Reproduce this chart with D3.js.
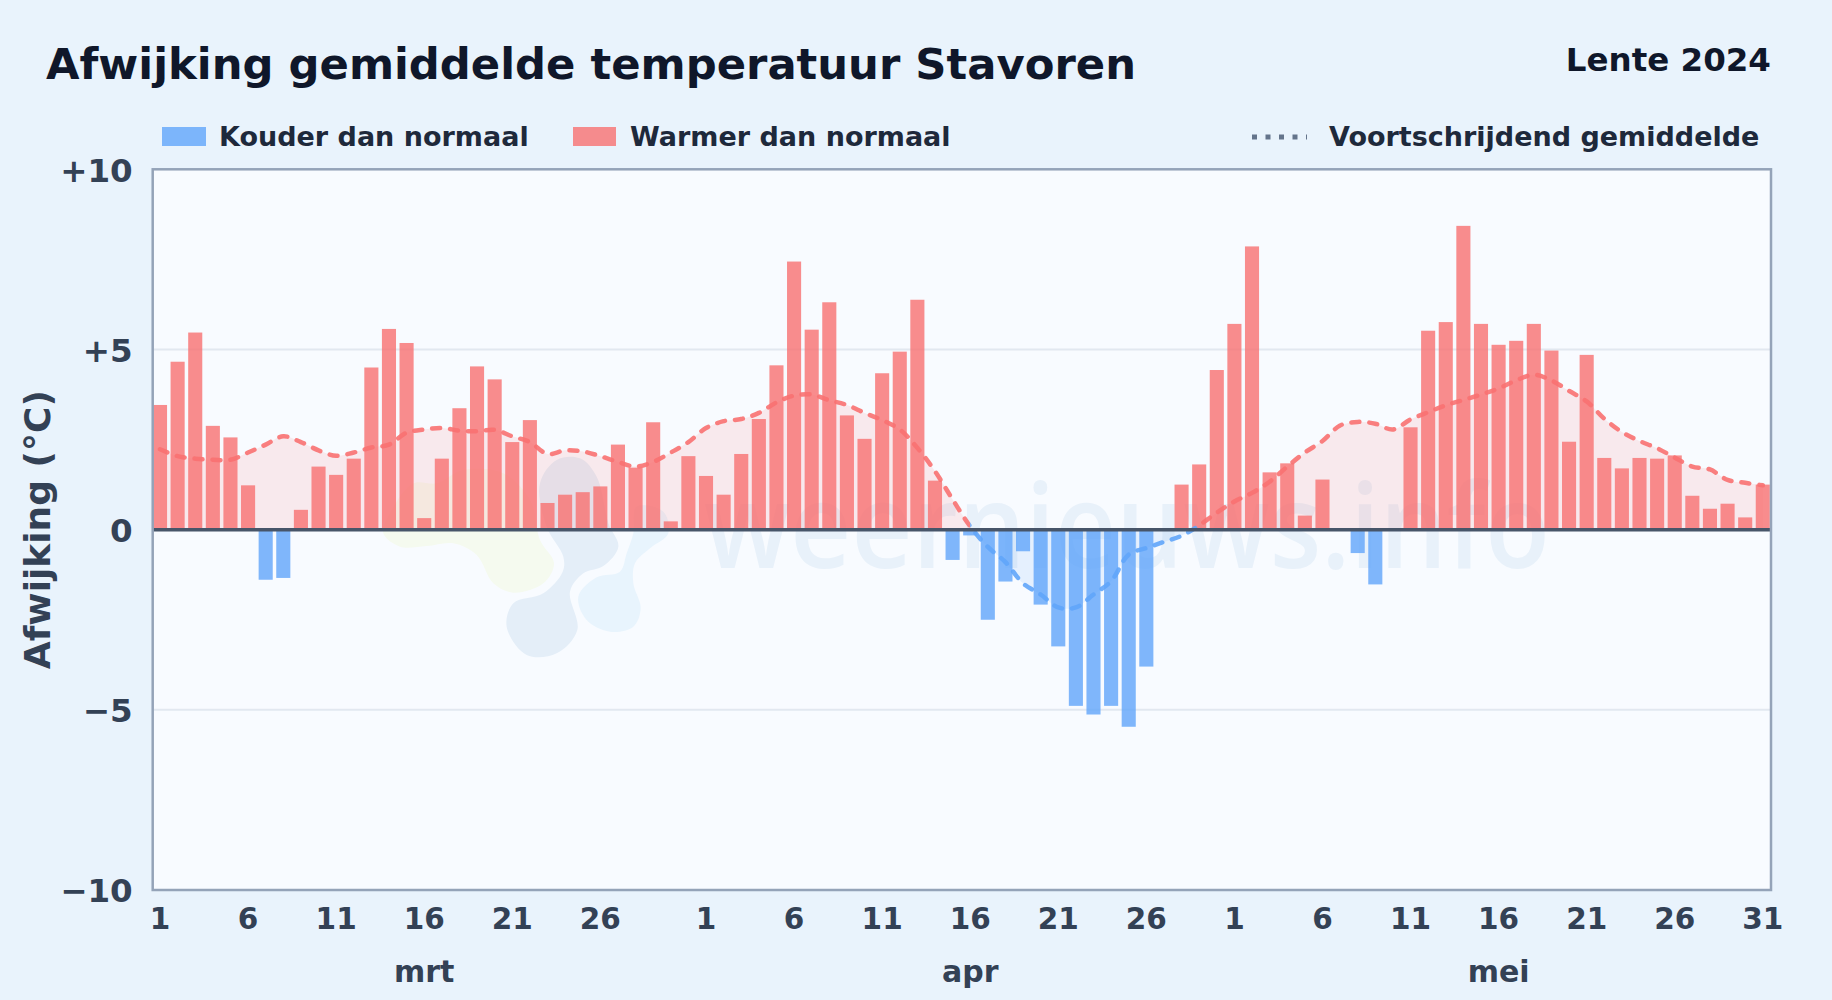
<!DOCTYPE html>
<html>
<head>
<meta charset="utf-8">
<script src="https://cdn.jsdelivr.net/npm/d3@7"></script>
<style>
  html, body { margin: 0; padding: 0; background: #e9f3fc; }
  svg { display: block; font-family: "DejaVu Sans", sans-serif; font-weight: 700; }
</style>
</head>
<body>
<div id="chart"></div>
<script>
// daily deviation (mrt, apr, mei)
const mrt = [3.46,4.66,5.47,2.88,2.56,1.23,-1.39,-1.34,0.55,1.75,1.52,1.97,4.5,5.57,5.18,0.32,1.97,3.37,4.53,4.17,2.43,3.04,0.74,0.97,1.04,1.2,2.36,1.72,2.98,0.23,2.04];
const apr = [1.49,0.97,2.1,3.07,4.56,7.44,5.55,6.31,3.17,2.52,4.34,4.94,6.38,1.36,-0.84,-0.16,-2.5,-1.44,-0.6,-2.08,-3.24,-4.89,-5.13,-4.89,-5.47,-3.8,0,1.25,1.81,4.43];
const mei = [5.71,7.86,1.59,1.84,0.39,1.39,0,-0.65,-1.52,0,2.84,5.52,5.76,8.43,5.71,5.13,5.24,5.71,4.97,2.44,4.85,1.99,1.7,1.99,1.97,2.06,0.94,0.58,0.72,0.34,1.25];

// rolling mean
const avgMrt = [2.23,2.04,1.97,1.94,1.94,2.14,2.36,2.59,2.43,2.2,2.05,2.14,2.28,2.36,2.69,2.78,2.82,2.75,2.73,2.77,2.59,2.43,2.1,2.2,2.17,2.04,1.88,1.75,1.88,2.14,2.43];
const avgApr = [2.82,3.01,3.07,3.24,3.53,3.72,3.75,3.59,3.46,3.24,3.04,2.78,2.27,1.62,0.84,0.09,-0.48,-0.9,-1.49,-1.8,-2.16,-2.16,-1.8,-1.43,-0.69,-0.51,-0.34,-0.17,0.12,0.47];
const avgMei = [0.78,1.02,1.33,1.75,2.14,2.46,2.89,2.99,2.94,2.78,3.06,3.26,3.45,3.6,3.75,3.92,4.14,4.3,4.14,3.85,3.56,3.08,2.71,2.46,2.26,2.0,1.75,1.67,1.38,1.3,1.23];

const monthNames = ["mrt", "apr", "mei"];
const yTicks = [10, 5, 0, -5, -10];
const dayStep = 5;

const values = [...mrt, ...apr, ...mei];
const rolling = [...avgMrt, ...avgApr, ...avgMei];
const monthLengths = [mrt.length, apr.length, mei.length];

const days = [];
monthLengths.forEach((n, m) => d3.range(n).forEach(i => days.push({month: m, day: i + 1, idx: days.length})));

const W = 1832, H = 1000;
const plot = {left: 152.7, right: 1771, top: 169.3, bottom: 890};

const svg = d3.select("#chart").append("svg").attr("width", W).attr("height", H);

const x = d3.scaleBand().domain(d3.range(values.length)).range([151.2, 1771.6]).paddingInner(0.2).paddingOuter(0.1);
const cx = i => x(i) + x.bandwidth() / 2;
const y = d3.scaleLinear().domain([-10, 10]).range([plot.bottom, plot.top]);

const red = "#f87171", blue = "#60a5fa";

const defs = svg.append("defs");
defs.append("clipPath").attr("id", "plotClip").append("rect")
  .attr("x", plot.left).attr("y", plot.top).attr("width", plot.right - plot.left).attr("height", plot.bottom - plot.top);
defs.append("clipPath").attr("id", "aboveZero").append("rect")
  .attr("x", plot.left).attr("y", plot.top).attr("width", plot.right - plot.left).attr("height", y(0) - plot.top);
defs.append("clipPath").attr("id", "belowZero").append("rect")
  .attr("x", plot.left).attr("y", y(0)).attr("width", plot.right - plot.left).attr("height", plot.bottom - y(0));

// the dip below zero gets the blue line, the rest stays red
const firstBelow = rolling.findIndex(v => v < 0);
const lastBelow = values.length - 1 - [...rolling].reverse().findIndex(v => v < 0);
const blueFrom = cx(firstBelow - 1), blueTo = cx(lastBelow + 1);
defs.append("clipPath").attr("id", "lineBlue").append("rect")
  .attr("x", blueFrom).attr("y", plot.top).attr("width", blueTo - blueFrom).attr("height", plot.bottom - plot.top);
const lineRed = defs.append("clipPath").attr("id", "lineRed");
lineRed.append("rect").attr("x", plot.left).attr("y", plot.top).attr("width", blueFrom - plot.left).attr("height", plot.bottom - plot.top);
lineRed.append("rect").attr("x", blueTo).attr("y", plot.top).attr("width", plot.right - blueTo).attr("height", plot.bottom - plot.top);

// plot background
svg.append("rect")
  .attr("x", plot.left).attr("y", plot.top)
  .attr("width", plot.right - plot.left).attr("height", plot.bottom - plot.top)
  .attr("fill", "#f8fbff");

// grid
svg.append("g").selectAll("line")
  .data(yTicks.filter(d => d !== 0 && Math.abs(d) !== 10))
  .enter().append("line")
  .attr("x1", plot.left).attr("x2", plot.right)
  .attr("y1", d => y(d)).attr("y2", d => y(d))
  .attr("stroke", "#e2e8f0").attr("stroke-width", 2);

// watermark logo + text
const toPage = p => [370 + p[0] / 3, 440 + p[1] / 3];
const blob = d3.line().curve(d3.curveCatmullRomClosed.alpha(0.5));
const blobs = [
  {fill: "#f5faef", pts: [[40,280],[90,320],[170,318],[250,310],[320,345],[370,430],[430,458],[520,430],[552,370],[510,300],[480,180],[400,100],[280,90],[200,130],[130,130],[60,220]]},
  {fill: "#e4eef8", pts: [[510,130],[560,60],[630,55],[680,110],[715,250],[745,320],[700,378],[640,400],[600,455],[622,570],[560,640],[470,645],[410,560],[430,490],[520,460],[578,395],[580,350],[530,260]]},
  {fill: "#e8f4fd", pts: [[770,340],[790,280],[800,200],[880,215],[895,280],[840,325],[795,370],[790,430],[812,505],[790,560],[720,575],[650,540],[625,470],[680,412],[750,395]]}
];
const mark = svg.append("g").attr("clip-path", "url(#plotClip)");
mark.selectAll("path").data(blobs).enter().append("path")
  .attr("d", d => blob(d.pts.map(toPage)))
  .attr("fill", d => d.fill);
mark.append("text")
  .attr("x", 704).attr("y", 568)
  .attr("textLength", 846).attr("lengthAdjust", "spacingAndGlyphs")
  .attr("font-family", "'Open Sans', sans-serif").attr("font-weight", 600).attr("font-size", 118)
  .attr("fill", "#e8f1fa")
  .text("weernieuws.info");

// rolling mean area
const area = d3.area().x((d, i) => cx(i)).y0(y(0)).y1(d => y(d)).curve(d3.curveCatmullRom.alpha(0.5));
const body = svg.append("g").attr("clip-path", "url(#plotClip)");
body.append("g").attr("clip-path", "url(#aboveZero)").append("path")
  .datum(rolling).attr("d", area).attr("fill", red).attr("opacity", 0.13);
body.append("g").attr("clip-path", "url(#belowZero)").append("path")
  .datum(rolling).attr("d", area).attr("fill", blue).attr("opacity", 0.12);

// bars
body.selectAll("rect.bar")
  .data(values)
  .enter().append("rect")
  .attr("class", "bar")
  .attr("x", (d, i) => x(i))
  .attr("width", x.bandwidth())
  .attr("y", d => y(Math.max(d, 0)))
  .attr("height", d => Math.abs(y(d) - y(0)))
  .attr("fill", d => d >= 0 ? red : blue)
  .attr("opacity", 0.8);

// rolling mean line
const line = d3.line().x((d, i) => cx(i)).y(d => y(d)).curve(d3.curveCatmullRom.alpha(0.5));
[["lineRed", red], ["lineBlue", blue]].forEach(([clip, color]) => {
  body.append("g").attr("clip-path", `url(#${clip})`).append("path")
    .datum(rolling).attr("d", line)
    .attr("fill", "none").attr("stroke", color).attr("stroke-width", 4.5)
    .attr("stroke-dasharray", "8 10").attr("stroke-linecap", "round")
    .attr("opacity", 0.9);
});

// zero line
svg.append("line")
  .attr("x1", plot.left).attr("x2", plot.right)
  .attr("y1", y(0)).attr("y2", y(0))
  .attr("stroke", "#475569").attr("stroke-width", 3.5);

// frame
svg.append("rect")
  .attr("x", plot.left).attr("y", plot.top)
  .attr("width", plot.right - plot.left).attr("height", plot.bottom - plot.top)
  .attr("fill", "none").attr("stroke", "#94a3b8").attr("stroke-width", 2.5);

// axes
const fmtY = d => d > 0 ? "+" + d : d < 0 ? "\u2212" + Math.abs(d) : "0";
const yAxis = svg.append("g")
  .attr("transform", `translate(${plot.left},0)`)
  .call(d3.axisLeft(y).tickValues(yTicks).tickFormat(fmtY).tickSize(0).tickPadding(20));
yAxis.select(".domain").remove();
yAxis.selectAll("text")
  .attr("font-family", "'DejaVu Sans', sans-serif").attr("font-weight", 700)
  .attr("font-size", 32.5).attr("fill", "#334155").attr("dy", "0.36em");

const tickDays = days.filter(d => (d.day - 1) % dayStep === 0 && d.day < 31 || d.day === 31 && d.month === 2);
const xAxis = svg.append("g")
  .attr("transform", `translate(0,${plot.bottom})`)
  .call(d3.axisBottom(x)
    .tickValues(tickDays.map(d => d.idx))
    .tickFormat(i => days[i].day)
    .tickSize(0).tickPadding(18));
xAxis.select(".domain").remove();
xAxis.selectAll("text")
  .attr("font-family", "'DejaVu Sans', sans-serif").attr("font-weight", 700)
  .attr("font-size", 29.5).attr("fill", "#334155");

// month labels under the 16th
svg.append("g").selectAll("text")
  .data(monthNames)
  .enter().append("text")
  .attr("x", (d, m) => cx(days.find(e => e.month === m && e.day === 16).idx))
  .attr("y", 982)
  .attr("text-anchor", "middle")
  .attr("font-size", 30).attr("fill", "#334155")
  .text(d => d);

svg.append("text")
  .attr("transform", `translate(50,${y(0)}) rotate(-90)`)
  .attr("text-anchor", "middle")
  .attr("font-size", 36).attr("fill", "#334155")
  .text("Afwijking (°C)");

// title
svg.append("text").attr("x", 46).attr("y", 79).attr("font-size", 43.3).attr("fill", "#0f172a")
  .text("Afwijking gemiddelde temperatuur Stavoren");
svg.append("text").attr("x", 1771).attr("y", 71).attr("text-anchor", "end").attr("font-size", 32.5).attr("fill", "#0f172a")
  .text("Lente 2024");

// legend
const legend = svg.append("g").attr("font-size", 27).attr("fill", "#1e293b");
legend.append("rect").attr("x", 162).attr("y", 127).attr("width", 44).attr("height", 19).attr("fill", blue).attr("opacity", 0.8);
legend.append("text").attr("x", 219).attr("y", 146).text("Kouder dan normaal");
legend.append("rect").attr("x", 573).attr("y", 127).attr("width", 43).attr("height", 19).attr("fill", red).attr("opacity", 0.8);
legend.append("text").attr("x", 630).attr("y", 146).text("Warmer dan normaal");
legend.append("line").attr("x1", 1252).attr("x2", 1307).attr("y1", 137).attr("y2", 137)
  .attr("stroke", "#64748b").attr("stroke-width", 5).attr("stroke-dasharray", "5 8.5");
legend.append("text").attr("x", 1329).attr("y", 146).text("Voortschrijdend gemiddelde");
</script>
</body>
</html>
